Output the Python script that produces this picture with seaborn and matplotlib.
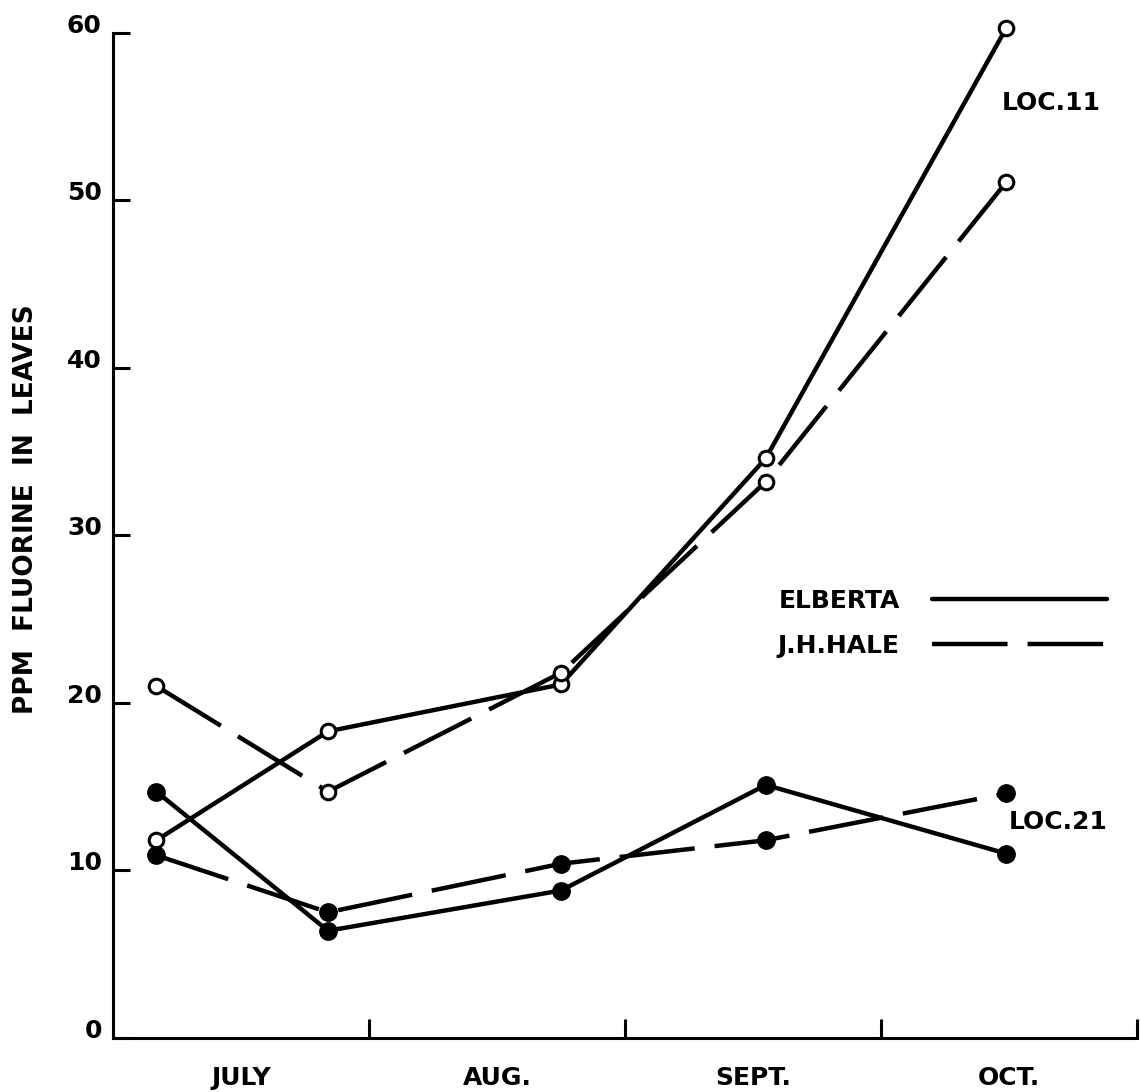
import matplotlib
matplotlib.use("Agg")
import matplotlib.pyplot as plt
from matplotlib.lines import Line2D
from matplotlib.transforms import ScaledTranslation
import seaborn as sns
import pandas as pd

# sampling dates, as months since 1 July
sample_x = [0.17, 0.84, 1.75, 2.55, 3.49]

# ppm fluorine in leaves
elberta_loc11 = [11.8, 18.3, 21.1, 34.6, 60.3]
hale_loc11 = [21.0, 14.7, 21.8, 33.2, 51.1]
elberta_loc21 = [14.7, 6.4, 8.8, 15.1, 11.0]
hale_loc21 = [10.9, 7.5, 10.4, 11.8, 14.6]

months = ["JULY", "AUG.", "SEPT.", "OCT."]
y_ticks = [0, 10, 20, 30, 40, 50, 60]

rows = []
for variety, loc, vals in [("ELBERTA", "LOC.11", elberta_loc11),
                           ("J.H.HALE", "LOC.11", hale_loc11),
                           ("ELBERTA", "LOC.21", elberta_loc21),
                           ("J.H.HALE", "LOC.21", hale_loc21)]:
    for x, v in zip(sample_x, vals):
        rows.append({"month": x, "ppm": v, "variety": variety, "loc": loc})
df = pd.DataFrame(rows)

sns.set_style("white")
plt.rcParams["font.family"] = ["DejaVu Sans"]
plt.rcParams["font.weight"] = "bold"
for key in ["text.color", "axes.labelcolor", "xtick.color", "ytick.color", "axes.edgecolor"]:
    plt.rcParams[key] = "black"

fig = plt.figure(figsize=(11.41, 10.92), dpi=100)
ax = fig.add_axes([0.099, 0.0495, 0.8975, 0.9205])

lw = 3.2
dash = (0, (17, 4.5))
for (variety, loc), sub in df.groupby(["variety", "loc"]):
    ls = "-" if variety == "ELBERTA" else dash
    if loc == "LOC.11":
        mk = dict(markersize=10.5, markerfacecolor="white", markeredgewidth=2.2)
    else:
        mk = dict(markersize=12.5, markerfacecolor="black", markeredgewidth=1)
    sns.lineplot(data=sub, x="month", y="ppm", ax=ax, color="black", lw=lw,
                 linestyle=ls, marker="o", markeredgecolor="black",
                 legend=False, clip_on=False, **mk)

ax.set_xlim(0, 4)
ax.set_ylim(0, 60)
for s in ["top", "right"]:
    ax.spines[s].set_visible(False)
for s in ["left", "bottom"]:
    ax.spines[s].set_linewidth(2.2)
    ax.spines[s].set_color("black")

ax.set_yticks(y_ticks)
ax.set_yticklabels([str(t) for t in y_ticks], fontsize=18, fontweight="bold")
ax.tick_params(axis="y", direction="in", length=12, width=2.2, pad=8, left=True)
for lab in ax.get_yticklabels():
    lab.set_transform(lab.get_transform() + ScaledTranslation(0, 7 / 72, fig.dpi_scale_trans))

ax.set_xticks([1, 2, 3, 4])
ax.set_xticklabels([])
ax.set_xticks([0.5, 1.5, 2.5, 3.5], minor=True)
ax.set_xticklabels(months, minor=True, fontsize=18, fontweight="bold")
ax.tick_params(axis="x", which="major", direction="in", length=14, width=2.2, bottom=True)
ax.tick_params(axis="x", which="minor", length=0, pad=20)

ax.set_xlabel("")
ax.set_ylabel("PPM  FLUORINE  IN  LEAVES", fontsize=19, fontweight="bold")
ax.yaxis.set_label_coords(-0.072, 0.526)

ax.text(3.47, 55.8, "LOC.11", fontsize=18, fontweight="bold", va="center", ha="left")
ax.text(3.50, 12.9, "LOC.21", fontsize=18, fontweight="bold", va="center", ha="left")

handles = [Line2D([], [], color="black", lw=lw, linestyle="-"),
           Line2D([], [], color="black", lw=lw, linestyle=dash)]
ax.legend(handles, ["ELBERTA", "J.H.HALE"], loc="upper right",
          bbox_to_anchor=(0.971, 0.447), frameon=False, markerfirst=False,
          handlelength=7.0, handletextpad=1.3, labelspacing=0.85,
          borderpad=0, borderaxespad=0,
          prop={"size": 18, "weight": "bold"})

fig.savefig("out.png", dpi=100, facecolor="white")
